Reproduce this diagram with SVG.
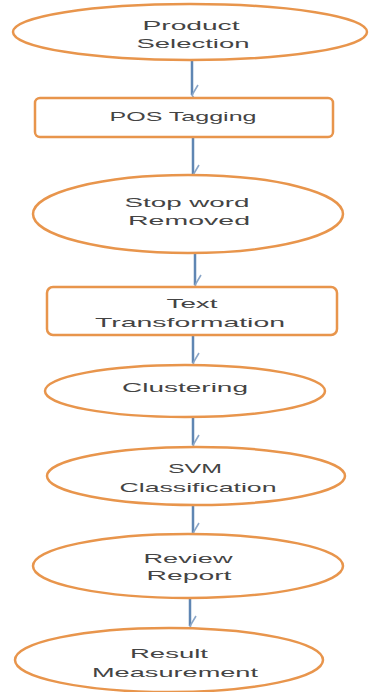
<svg xmlns="http://www.w3.org/2000/svg" width="369" height="692" viewBox="0 0 369 692">
<defs>
<style>
.n{fill:#fff;stroke:#E8954C;stroke-width:2.5}
.t{font-family:"Liberation Sans",Arial,sans-serif;font-size:13px;fill:#444;text-anchor:middle}
.c{stroke:#5F86B3;stroke-width:2.5;fill:none}
</style>
<marker id="ah" markerWidth="22" markerHeight="10" refX="11" refY="8" orient="auto" markerUnits="userSpaceOnUse" viewBox="0 0 22 10">
<path d="M1,2 L11,8 L21,2" fill="none" stroke="#8AA6C8" stroke-width="1.6"/>
</marker>
</defs>
<rect width="369" height="692" fill="#fff"/>
<g id="connectors">
<line class="c" x1="192" y1="61" x2="192" y2="95" marker-end="url(#ah)"/>
<line class="c" x1="193" y1="138" x2="193" y2="175" marker-end="url(#ah)"/>
<line class="c" x1="195" y1="254" x2="195" y2="285" marker-end="url(#ah)"/>
<line class="c" x1="193" y1="336" x2="193" y2="363" marker-end="url(#ah)"/>
<line class="c" x1="193" y1="418" x2="193" y2="445" marker-end="url(#ah)"/>
<line class="c" x1="193" y1="506" x2="193" y2="533" marker-end="url(#ah)"/>
<line class="c" x1="190" y1="599" x2="190" y2="626" marker-end="url(#ah)"/>
</g>
<g id="product-selection">
<ellipse class="n" cx="190" cy="32" rx="177" ry="28"/>
<text class="t" x="191" y="30" textLength="97" lengthAdjust="spacingAndGlyphs">Product</text>
<text class="t" x="193" y="48" textLength="113" lengthAdjust="spacingAndGlyphs">Selection</text>
</g>
<g id="pos-tagging">
<rect class="n" x="35" y="98" width="298" height="39" rx="5"/>
<text class="t" x="183" y="121" textLength="147" lengthAdjust="spacingAndGlyphs">POS Tagging</text>
</g>
<g id="stop-word-removed">
<ellipse class="n" cx="188" cy="214" rx="155" ry="39"/>
<text class="t" x="187" y="207" textLength="125" lengthAdjust="spacingAndGlyphs">Stop word</text>
<text class="t" x="189" y="225" textLength="122" lengthAdjust="spacingAndGlyphs">Removed</text>
</g>
<g id="text-transformation">
<rect class="n" x="47" y="287" width="290" height="48" rx="6"/>
<text class="t" x="192" y="308" textLength="51" lengthAdjust="spacingAndGlyphs">Text</text>
<text class="t" x="190" y="327" textLength="190" lengthAdjust="spacingAndGlyphs">Transformation</text>
</g>
<g id="clustering">
<ellipse class="n" cx="185" cy="391" rx="140" ry="26"/>
<text class="t" x="185" y="392" textLength="126" lengthAdjust="spacingAndGlyphs">Clustering</text>
</g>
<g id="svm-classification">
<ellipse class="n" cx="196" cy="476" rx="149" ry="29"/>
<text class="t" x="195" y="473" textLength="54" lengthAdjust="spacingAndGlyphs">SVM</text>
<text class="t" x="198" y="492" textLength="157" lengthAdjust="spacingAndGlyphs">Classification</text>
</g>
<g id="review-report">
<ellipse class="n" cx="188" cy="566" rx="155" ry="32"/>
<text class="t" x="188" y="563" textLength="89" lengthAdjust="spacingAndGlyphs">Review</text>
<text class="t" x="189" y="580" textLength="85" lengthAdjust="spacingAndGlyphs">Report</text>
</g>
<g id="result-measurement">
<ellipse class="n" cx="169" cy="660" rx="154" ry="32"/>
<text class="t" x="169" y="658" textLength="78" lengthAdjust="spacingAndGlyphs">Result</text>
<text class="t" x="175" y="677" textLength="166" lengthAdjust="spacingAndGlyphs">Measurement</text>
</g>
</svg>
